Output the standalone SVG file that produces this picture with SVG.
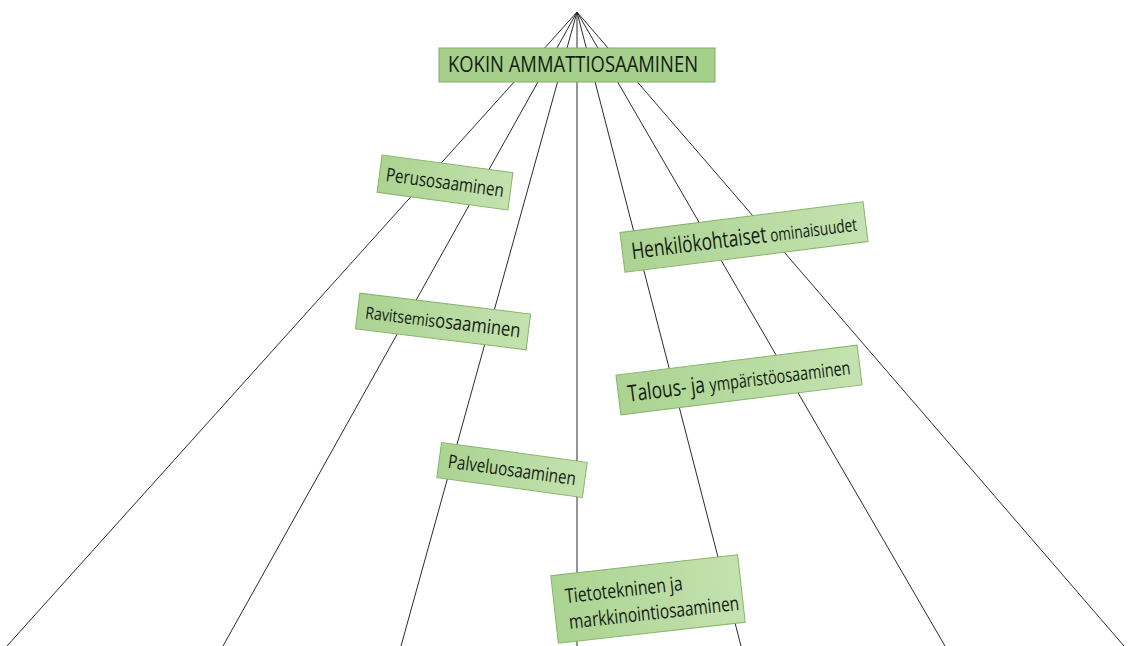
<svg xmlns="http://www.w3.org/2000/svg" width="1145" height="646" viewBox="0 0 1145 646">
<defs>
<linearGradient id="g" x1="0" y1="0" x2="1" y2="0">
<stop offset="0" stop-color="#abd391"/>
<stop offset="1" stop-color="#c3e2af"/>
</linearGradient>
<style>
.box{fill:url(#g);stroke:#86b46a;stroke-width:1}
.main{fill:#a6cf8b;stroke:#7fae62;stroke-width:1}
.t{font-family:"Open Sans","Noto Sans",sans-serif;fill:#142014}
.ln{stroke:#2a2a2a;stroke-width:1;fill:none}
</style>
</defs>
<rect width="1145" height="646" fill="#ffffff"/>
<g id="connectors">
<line class="ln" x1="577" y1="12" x2="7" y2="646"/>
<line class="ln" x1="577" y1="12" x2="223" y2="646"/>
<line class="ln" x1="577" y1="12" x2="401" y2="646"/>
<line class="ln" x1="577" y1="12" x2="577" y2="646"/>
<line class="ln" x1="577" y1="12" x2="741" y2="646"/>
<line class="ln" x1="577" y1="12" x2="945" y2="646"/>
<line class="ln" x1="577" y1="12" x2="1124" y2="646"/>
</g>
<g id="kokin">
<rect class="main" x="439" y="48" width="276" height="34"/>
<text class="t" x="573" y="72" font-size="21" text-anchor="middle" textLength="250" lengthAdjust="spacingAndGlyphs">KOKIN AMMATTIOSAAMINEN</text>
</g>
<g id="perus" transform="translate(445,182.5) rotate(7.7)">
<rect class="box" x="-66" y="-18.8" width="132" height="37.6"/>
<text class="t" x="0" y="6.5" font-size="19" text-anchor="middle" textLength="119" lengthAdjust="spacingAndGlyphs">Perusosaaminen</text>
</g>
<g id="henkilo" transform="translate(744,237) rotate(-7.2)">
<rect class="box" x="-122.5" y="-20" width="245" height="40"/>
<text class="t" x="0" y="8" text-anchor="middle" textLength="227" lengthAdjust="spacingAndGlyphs"><tspan font-size="23">Henkilökohtaiset</tspan><tspan font-size="18"> ominaisuudet</tspan></text>
</g>
<g id="ravitsemis" transform="translate(443,321.5) rotate(7)">
<rect class="box" x="-86" y="-18" width="172" height="36"/>
<text class="t" x="0" y="6.5" text-anchor="middle" textLength="156" lengthAdjust="spacingAndGlyphs"><tspan font-size="17">Ravitsemis</tspan><tspan font-size="20">osaaminen</tspan></text>
</g>
<g id="talous" transform="translate(739,380) rotate(-7.1)">
<rect class="box" x="-121.5" y="-20" width="243" height="40"/>
<text class="t" x="0" y="8" text-anchor="middle" textLength="224" lengthAdjust="spacingAndGlyphs"><tspan font-size="23">Talous- ja </tspan><tspan font-size="19">ympäristöosaaminen</tspan></text>
</g>
<g id="palvelu" transform="translate(512,470) rotate(7.8)">
<rect class="box" x="-73.5" y="-17.7" width="147" height="35.4"/>
<text class="t" x="0" y="6.5" font-size="19" text-anchor="middle" textLength="129" lengthAdjust="spacingAndGlyphs">Palveluosaaminen</text>
</g>
<g id="tieto" transform="translate(648,599) rotate(-6.4)">
<rect class="box" x="-94" y="-34" width="188" height="68"/>
<text class="t" x="-82" y="-5" font-size="20" textLength="118" lengthAdjust="spacingAndGlyphs">Tietotekninen ja</text>
<text class="t" x="-81" y="21" font-size="20" textLength="171" lengthAdjust="spacingAndGlyphs">markkinointiosaaminen</text>
</g>
</svg>
